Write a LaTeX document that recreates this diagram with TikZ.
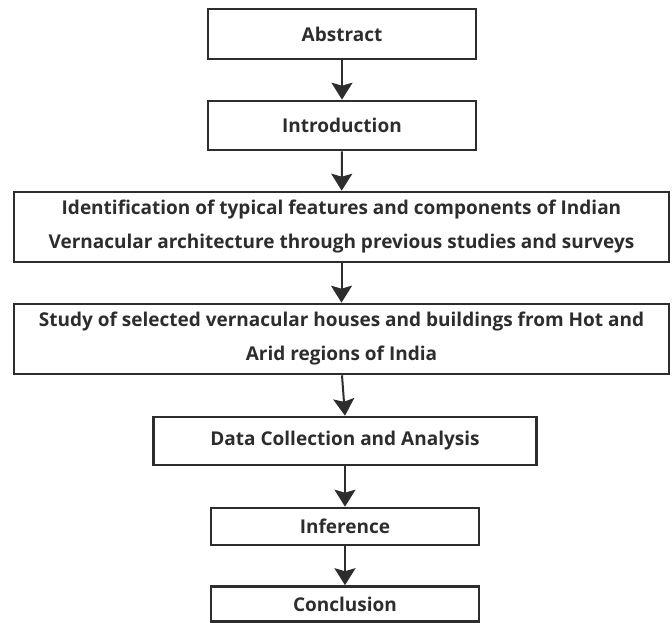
\documentclass[tikz,border=0pt]{standalone}
\usepackage{fontspec}
\setmainfont{Open Sans}
\usetikzlibrary{arrows.meta, positioning}
\definecolor{inkgray}{RGB}{45, 45, 45}

\tikzset{
  stagebox/.style={draw=inkgray, line width=2.6pt, inner sep=0pt, align=center, text=inkgray, font=\fontsize{19}{34}\selectfont\bfseries},
  flowarrow/.style={draw=inkgray, line width=2pt, -{Stealth[length=17pt, width=21pt, inset=3pt]}}
}

\begin{document}
\begin{tikzpicture}[x=1pt, y=-1pt]
  \useasboundingbox (0, 0) rectangle (672, 623);

  % Stages of the study
  \node[stagebox, minimum width=268pt, minimum height=50pt] (abstract) at (342, 34) {Abstract};
  \node[stagebox, minimum width=268pt, minimum height=49pt] (intro) at (342, 125.5) {Introduction};
  \node[stagebox, minimum width=655pt, minimum height=70pt] (ident) at (341.5, 227) {
    Identification of typical features and components of Indian\\Vernacular architecture through previous studies and surveys
  };
  \node[stagebox, minimum width=655pt, minimum height=70pt] (study) at (341.5, 339) {
    Study of selected vernacular houses and buildings from Hot and\\Arid regions of India
  };
  \node[stagebox, minimum width=383pt, minimum height=48pt] (data) at (345, 441) {Data Collection and Analysis};
  \node[stagebox, minimum width=268pt, minimum height=37pt] (infer) at (345, 526.5) {Inference};
  \node[stagebox, minimum width=268pt, minimum height=35pt] (concl) at (345, 604) {Conclusion};

  % Arrows between stages
  \draw[flowarrow] (abstract) -- (intro);
  \draw[flowarrow] (intro) -- (ident);
  \draw[flowarrow] (ident) -- (study);
  \draw[flowarrow] (study.south) ++(0.5, 0) -- (data.north);
  \draw[flowarrow] (data) -- (infer);
  \draw[flowarrow] (infer) -- (concl);
\end{tikzpicture}
\end{document}
